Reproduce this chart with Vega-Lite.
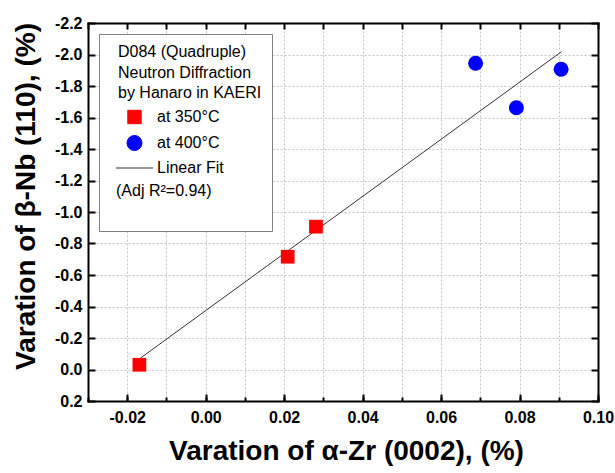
{
  "$schema": "https://vega.github.io/schema/vega-lite/v6.json",
  "width": 510,
  "height": 378,
  "autosize": {"type": "none"},
  "padding": {"left": 88, "top": 23, "right": 17, "bottom": 72},
  "background": "white",
  "config": {
    "view": {"stroke": null},
    "font": "Liberation Sans",
    "axis": {
      "domainColor": "black",
      "domainWidth": 2,
      "domainCap": "square",
      "tickColor": "black",
      "tickWidth": 2,
      "labelFont": "Liberation Sans",
      "labelFontSize": 16,
      "labelFontWeight": "bold",
      "labelColor": "black",
      "labelFlush": false,
      "labelOverlap": false,
      "titleFont": "Liberation Sans",
      "titleFontSize": 28,
      "titleFontWeight": "bold",
      "titleColor": "black",
      "gridColor": "#c4c4c4",
      "gridDash": [2, 2],
      "gridWidth": 1
    },
    "legend": {
      "orient": "none",
      "legendX": 11,
      "legendY": 11,
      "titleFont": "Liberation Sans",
      "titleFontSize": 16,
      "titleFontWeight": "normal",
      "titleColor": "black",
      "titleLineHeight": 20.5,
      "titlePadding": 8,
      "labelFont": "Liberation Sans",
      "labelFontSize": 16,
      "labelColor": "black",
      "padding": 10,
      "strokeColor": "#808080",
      "fillColor": "white",
      "strokeWidth": 1,
      "symbolOffset": 17.5,
      "labelOffset": 14.5,
      "rowPadding": 7
    }
  },
  "layer": [
    {
      "data": {
        "values": [
          {"x": -0.0166, "y": -0.073, "series": "Linear Fit"},
          {"x": 0.0907, "y": -2.018, "series": "Linear Fit"}
        ]
      },
      "mark": {"type": "line", "strokeWidth": 1},
      "encoding": {
        "x": {
          "field": "x",
          "type": "quantitative",
          "scale": {"domain": [-0.03, 0.1], "nice": false, "zero": false},
          "axis": {
            "orient": "bottom",
            "title": "Varation of α-Zr (0002), (%)",
            "values": [-0.03, -0.02, -0.01, 0, 0.01, 0.02, 0.03, 0.04, 0.05, 0.06, 0.07, 0.08, 0.09, 0.1],
            "format": ".2f",
            "labelExpr": "abs(round(datum.value * 100)) % 2 === 0 ? replace(datum.label, '−', '-') : ''",
            "grid": true,
            "tickSize": -4,
            "labelPadding": 12,
            "titleBaseline": "alphabetic",
            "titleX": 258,
            "titleY": 58
          }
        },
        "y": {
          "field": "y",
          "type": "quantitative",
          "scale": {"domain": [-2.2, 0.2], "reverse": true, "nice": false, "zero": false},
          "axis": {
            "orient": "left",
            "title": "Varation of β-Nb (110), (%)",
            "values": [-2.2, -2, -1.8, -1.6, -1.4, -1.2, -1, -0.8, -0.6, -0.4, -0.2, 0, 0.2],
            "format": ".1f",
            "labelExpr": "replace(datum.label, '−', '-')",
            "grid": true,
            "tickSize": -7,
            "labelPadding": 13,
            "titleBaseline": "alphabetic",
            "titleAngle": -90,
            "titleAlign": "center",
            "titleX": -54,
            "titleY": 173
          }
        },
        "color": {
          "field": "series",
          "type": "nominal",
          "scale": {
            "domain": ["at 350°C", "at 400°C", "Linear Fit", "(Adj R²=0.94)", " "],
            "range": ["#ff0000", "#0000ff", "#333333", "#ffffff", "#ffffff"]
          },
          "legend": {
            "title": ["D084 (Quadruple)", "Neutron Diffraction", "by Hanaro in KAERI"],
            "encode": {
              "title": {"update": {"dx": {"value": 9}}},
              "symbols": {
                "update": {
                  "size": {"signal": "datum.value === 'Linear Fit' ? 1369 : datum.value === 'at 400°C' ? 225 : 180"},
                  "fill": {"signal": "datum.value === 'at 350°C' ? '#ff0000' : datum.value === 'at 400°C' ? '#0000ff' : 'transparent'"},
                  "stroke": {"signal": "datum.value === 'Linear Fit' ? '#333333' : 'transparent'"},
                  "strokeWidth": {"value": 1},
                  "opacity": {"signal": "indexof(['at 350°C', 'at 400°C', 'Linear Fit'], datum.value) >= 0 ? 1 : 0"}
                }
              },
              "labels": {
                "update": {
                  "dx": {"signal": "datum.value === '(Adj R²=0.94)' ? -41 : 0"},
                  "fontSize": {"signal": "datum.value === ' ' ? 4 : 16"}
                }
              }
            }
          }
        }
      }
    },
    {
      "data": {
        "values": [
          {"x": -0.0169, "y": -0.03, "series": "at 350°C"},
          {"x": 0.0209, "y": -0.716, "series": "at 350°C"},
          {"x": 0.0281, "y": -0.907, "series": "at 350°C"},
          {"x": 0.0688, "y": -1.944, "series": "at 400°C"},
          {"x": 0.0792, "y": -1.662, "series": "at 400°C"},
          {"x": 0.0906, "y": -1.906, "series": "at 400°C"}
        ]
      },
      "mark": {"type": "point", "filled": true, "opacity": 1},
      "encoding": {
        "x": {
          "field": "x",
          "type": "quantitative",
          "axis": {
            "orient": "bottom",
            "title": null,
            "values": [-0.02, 0, 0.02, 0.04, 0.06, 0.08, 0.1],
            "labels": false,
            "grid": false,
            "domain": false,
            "tickSize": -7
          }
        },
        "y": {
          "field": "y",
          "type": "quantitative",
          "axis": {
            "orient": "right",
            "title": null,
            "values": [-2.2, -2, -1.8, -1.6, -1.4, -1.2, -1, -0.8, -0.6, -0.4, -0.2, 0, 0.2],
            "labels": false,
            "grid": false,
            "domain": true,
            "tickSize": -7
          }
        },
        "color": {
          "field": "series",
          "type": "nominal",
          "legend": {
            "title": ["D084 (Quadruple)", "Neutron Diffraction", "by Hanaro in KAERI"],
            "encode": {
              "title": {"update": {"dx": {"value": 9}}},
              "symbols": {
                "update": {
                  "size": {"signal": "datum.value === 'Linear Fit' ? 1369 : datum.value === 'at 400°C' ? 225 : 180"},
                  "fill": {"signal": "datum.value === 'at 350°C' ? '#ff0000' : datum.value === 'at 400°C' ? '#0000ff' : 'transparent'"},
                  "stroke": {"signal": "datum.value === 'Linear Fit' ? '#333333' : 'transparent'"},
                  "strokeWidth": {"value": 1},
                  "opacity": {"signal": "indexof(['at 350°C', 'at 400°C', 'Linear Fit'], datum.value) >= 0 ? 1 : 0"}
                }
              },
              "labels": {
                "update": {
                  "dx": {"signal": "datum.value === '(Adj R²=0.94)' ? -41 : 0"},
                  "fontSize": {"signal": "datum.value === ' ' ? 4 : 16"}
                }
              }
            }
          }
        },
        "shape": {
          "field": "series",
          "type": "nominal",
          "scale": {
            "domain": ["at 350°C", "at 400°C", "Linear Fit", "(Adj R²=0.94)", " "],
            "range": ["square", "circle", "stroke", "circle", "circle"]
          },
          "legend": {
            "title": ["D084 (Quadruple)", "Neutron Diffraction", "by Hanaro in KAERI"],
            "encode": {
              "title": {"update": {"dx": {"value": 9}}},
              "symbols": {
                "update": {
                  "size": {"signal": "datum.value === 'Linear Fit' ? 1369 : datum.value === 'at 400°C' ? 225 : 180"},
                  "fill": {"signal": "datum.value === 'at 350°C' ? '#ff0000' : datum.value === 'at 400°C' ? '#0000ff' : 'transparent'"},
                  "stroke": {"signal": "datum.value === 'Linear Fit' ? '#333333' : 'transparent'"},
                  "strokeWidth": {"value": 1},
                  "opacity": {"signal": "indexof(['at 350°C', 'at 400°C', 'Linear Fit'], datum.value) >= 0 ? 1 : 0"}
                }
              },
              "labels": {
                "update": {
                  "dx": {"signal": "datum.value === '(Adj R²=0.94)' ? -41 : 0"},
                  "fontSize": {"signal": "datum.value === ' ' ? 4 : 16"}
                }
              }
            }
          }
        },
        "size": {
          "field": "series",
          "type": "nominal",
          "scale": {"domain": ["at 350°C", "at 400°C"], "range": [188, 225]},
          "legend": null
        }
      }
    },
    {
      "data": {
        "values": [
          {"x": -0.0166, "y": -0.073},
          {"x": 0.0907, "y": -2.018}
        ]
      },
      "mark": {"type": "point", "opacity": 0},
      "encoding": {
        "x": {
          "field": "x",
          "type": "quantitative",
          "axis": {
            "orient": "top",
            "title": null,
            "values": [-0.03, -0.02, -0.01, 0, 0.01, 0.02, 0.03, 0.04, 0.05, 0.06, 0.07, 0.08, 0.09, 0.1],
            "labels": false,
            "grid": false,
            "domain": true,
            "tickSize": -6
          }
        },
        "y": {"field": "y", "type": "quantitative", "axis": null}
      }
    }
  ],
  "resolve": {"axis": {"x": "independent", "y": "independent"}}
}
